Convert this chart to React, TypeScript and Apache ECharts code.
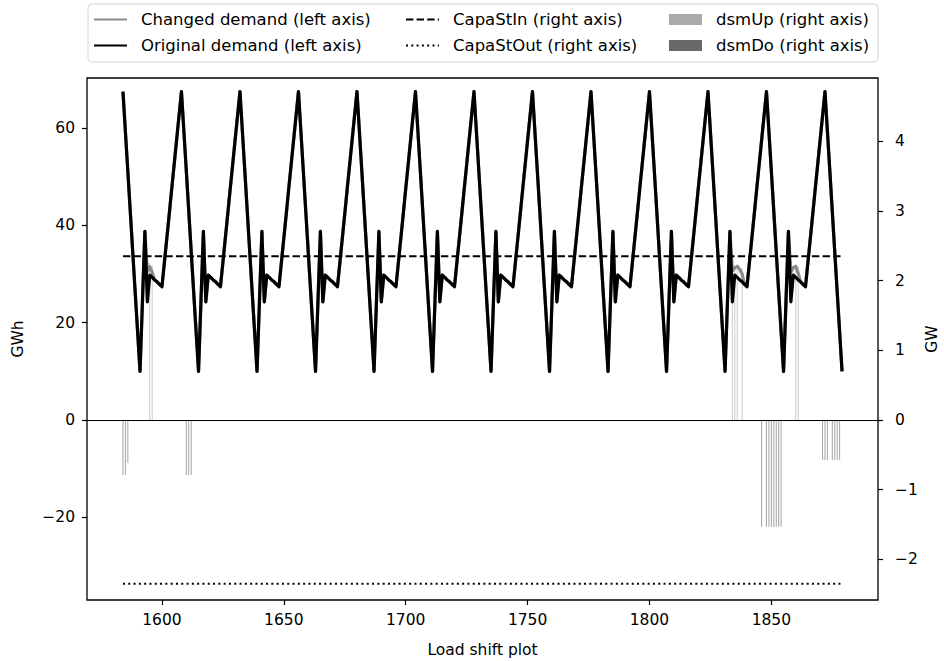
import React, { useEffect, useRef } from "react";
import * as echarts from "echarts";

// ---------------- data ----------------
const startHour = 1584;
const endHour = 1879;
// original demand (GWh) for the 24 hours that follow each daily peak (repeats every day)
const dayProfile = [
  67.5, 59.3, 51.1, 42.9, 34.6, 26.4, 18.2, 10.0, 24.4, 38.8, 24.3, 29.8,
  29.3, 28.8, 28.4, 27.9, 27.4, 32.4, 37.4, 42.4, 47.5, 52.5, 57.5, 62.5,
];
// hours where the changed demand differs from the original demand (GWh)
const changedHours = [1594, 1595, 1596, 1834, 1835, 1836, 1837, 1838, 1858, 1859, 1860, 1861];
const changedValues = [30.5, 31.5, 30.3, 30.6, 31.3, 31.6, 31.0, 30.0, 30.4, 31.3, 31.6, 30.2];
// storage capacities (GW)
const capaStIn = 2.35;
const capaStOut = -2.35;
// DSM up / down (GW)
const dsmUpHours = [1595, 1596, 1834, 1835, 1836, 1838, 1860, 1861];
const dsmUpValues = [2.25, 2.22, 2.22, 2.2, 2.2, 2.18, 2.2, 2.2];
const dsmDoHours = [
  1584, 1585, 1586, 1610, 1611, 1612, 1846, 1848, 1849, 1850, 1851, 1852, 1853, 1854,
  1871, 1872, 1873, 1875, 1876, 1877, 1878,
];
const dsmDoValues = [
  -0.79, -0.79, -0.62, -0.79, -0.79, -0.79, -1.535, -1.535, -1.535, -1.535, -1.535, -1.535,
  -1.535, -1.535, -0.574, -0.574, -0.574, -0.574, -0.574, -0.574, -0.574,
];
// ticks
const xTicks = [1600, 1650, 1700, 1750, 1800, 1850];
const leftTicks = [-20, 0, 20, 40, 60];
const rightTicks = [-2, -1, 0, 1, 2, 3, 4];

const FONT = "DejaVu Sans";
const minus = (v: number) => String(v).replace("-", "\u2212");

export default function App() {
  const ref = useRef<HTMLDivElement>(null);
  useEffect(() => {
    if (!ref.current) return;
    const chart = echarts.init(ref.current, undefined, { renderer: "svg" });

    const hours: number[] = [];
    for (let h = startHour; h <= endHour; h++) hours.push(h);
    const original = hours.map((h) => [h, dayProfile[(h - startHour) % 24]]);
    const changed = hours.map((h, i) => {
      const k = changedHours.indexOf(h);
      return [h, k >= 0 ? changedValues[k] : original[i][1]];
    });
    const capIn = hours.map((h) => [h, capaStIn]);
    const capOut = hours.map((h) => [h, capaStOut]);
    const up = dsmUpHours.map((h, i) => [h, dsmUpValues[i]]);
    const down = dsmDoHours.map((h, i) => [h, dsmDoValues[i]]);

    const tickStyle = { show: true, length: 5, lineStyle: { color: "#000", width: 1.2 } };
    const labelStyle = { fontFamily: FONT, fontSize: 15.5, color: "#000" };
    const legendText = {
      fontFamily: FONT,
      fontSize: 16.5,
      lineHeight: 16,
      color: "#000",
      padding: [0, 0, 0, 9],
    };
    const hideSym = { opacity: 0 };

    chart.setOption({
      animation: false,
      backgroundColor: "#fff",
      grid: {
        left: 87,
        right: 66,
        top: 78,
        bottom: 61,
        containLabel: false,
        outerBoundsMode: "none",
        show: true,
        borderColor: "#000",
        borderWidth: 1.3,
        backgroundColor: "transparent",
      },
      graphic: [
        {
          type: "rect",
          shape: { x: 88, y: 4, width: 790, height: 58, r: 4 },
          style: { fill: "rgba(0,0,0,0)", stroke: "#d4d4d4", lineWidth: 1 },
          silent: true,
        },
      ],
      legend: [
        {
          data: [
            { name: "Changed demand (left axis)", itemStyle: hideSym },
            { name: "Original demand (left axis)", itemStyle: hideSym },
          ],
          orient: "vertical",
          left: 88,
          top: 6,
          itemWidth: 33,
          itemHeight: 14,
          itemGap: 9,
          textStyle: legendText,
        },
        {
          data: [
            { name: "CapaStIn (right axis)", itemStyle: hideSym },
            { name: "CapaStOut (right axis)", itemStyle: hideSym },
          ],
          orient: "vertical",
          left: 400,
          top: 6,
          itemWidth: 33,
          itemHeight: 14,
          itemGap: 9,
          textStyle: legendText,
        },
        {
          data: [
            { name: "dsmUp (right axis)", icon: "rect", itemStyle: { color: "#aaaaaa", opacity: 1 } },
            { name: "dsmDo (right axis)", icon: "rect", itemStyle: { color: "#686868", opacity: 1 } },
          ],
          orient: "vertical",
          left: 664,
          top: 6,
          itemWidth: 33,
          itemHeight: 11,
          itemGap: 9,
          textStyle: legendText,
        },
      ],
      xAxis: {
        type: "value",
        min: 1569.25,
        max: 1893.75,
        name: "Load shift plot",
        nameLocation: "middle",
        nameGap: 42,
        nameMoveOverlap: false,
        nameTextStyle: { fontFamily: FONT, fontSize: 15.5, color: "#000" },
        axisLine: { show: false, onZero: false },
        axisTick: { ...tickStyle, customValues: xTicks },
        axisLabel: { ...labelStyle, margin: 12, customValues: xTicks, formatter: minus },
        splitLine: { show: false },
      },
      yAxis: [
        {
          type: "value",
          position: "left",
          min: -37.0,
          max: 70.3,
          name: "GWh",
          nameLocation: "middle",
          nameRotate: 90,
          nameGap: 61,
          nameMoveOverlap: false,
          nameTextStyle: { fontFamily: FONT, fontSize: 15.5, color: "#000" },
          axisLine: { show: false },
          axisTick: { ...tickStyle, customValues: leftTicks },
          axisLabel: { ...labelStyle, margin: 12, customValues: leftTicks, formatter: minus },
          splitLine: { show: false },
        },
        {
          type: "value",
          position: "right",
          min: -2.585,
          max: 4.907,
          name: "GW",
          nameLocation: "middle",
          nameRotate: 90,
          nameGap: 46,
          nameMoveOverlap: false,
          nameTextStyle: { fontFamily: FONT, fontSize: 15.5, color: "#000" },
          axisLine: { show: false },
          axisTick: { ...tickStyle, customValues: rightTicks },
          axisLabel: { ...labelStyle, margin: 17, customValues: rightTicks, formatter: minus },
          splitLine: { show: false },
        },
      ],
      series: [
        {
          name: "dsmUp (right axis)",
          type: "bar",
          yAxisIndex: 1,
          data: up,
          barWidth: 1,
          barGap: "-100%",
          itemStyle: { color: "rgba(170,170,170,0.6)" },
          z: 1,
        },
        {
          name: "dsmDo (right axis)",
          type: "bar",
          yAxisIndex: 1,
          data: down,
          barWidth: 1,
          barGap: "-100%",
          itemStyle: { color: "rgba(104,104,104,0.6)" },
          z: 1,
        },
        {
          name: "Changed demand (left axis)",
          type: "line",
          yAxisIndex: 0,
          data: changed,
          symbol: "none",
          color: "#8a8a8a",
          lineStyle: { color: "#8a8a8a", width: 3.2, join: "round" },
          z: 2,
        },
        {
          name: "Original demand (left axis)",
          type: "line",
          yAxisIndex: 0,
          data: original,
          symbol: "none",
          color: "#000",
          lineStyle: { color: "#000", width: 3.2, join: "round" },
          z: 3,
          markLine: {
            silent: true,
            symbol: ["none", "none"],
            label: { show: false },
            lineStyle: { color: "#000", width: 1, type: "solid" },
            data: [{ yAxis: 0 }],
          },
        },
        {
          name: "CapaStIn (right axis)",
          type: "line",
          yAxisIndex: 1,
          data: capIn,
          symbol: "none",
          color: "#000",
          lineStyle: { color: "#000", width: 2, type: [7.4, 3.2] },
          z: 4,
        },
        {
          name: "CapaStOut (right axis)",
          type: "line",
          yAxisIndex: 1,
          data: capOut,
          symbol: "none",
          color: "#000",
          lineStyle: { color: "#000", width: 2, type: [2, 3.3] },
          z: 4,
        },
      ],
    });
    return () => chart.dispose();
  }, []);
  return (
    <div
      ref={ref}
      style={{ position: "fixed", left: 0, top: 0, width: 944, height: 661, background: "#fff" }}
    />
  );
}
